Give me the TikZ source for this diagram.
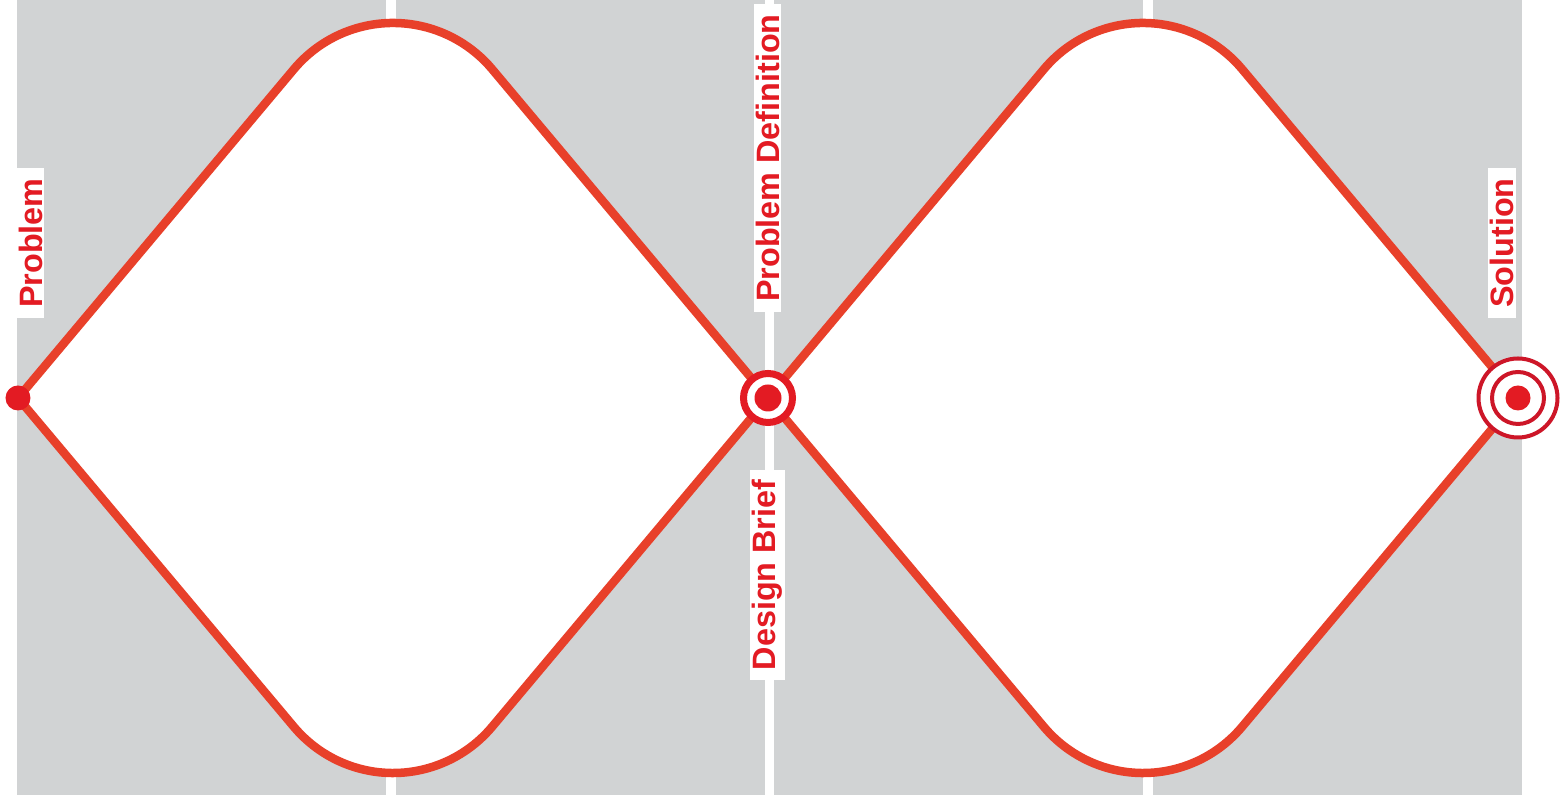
\documentclass[tikz,border=0pt]{standalone}
\usepackage{fontspec}
\setmainfont{Liberation Sans}
\usetikzlibrary{positioning}
\definecolor{panelgrey}{RGB}{209,211,212}
\definecolor{pathred}{RGB}{232,64,42}
\definecolor{dotred}{RGB}{227,27,35}
\definecolor{ringred}{RGB}{205,22,40}
\tikzset{
  panel/.style={fill=panelgrey, draw=none},
  stagelabel/.style={fill=white, text=dotred, rotate=90, inner xsep=0.1cm, inner ysep=0.02cm,
    font=\bfseries\fontsize{9.2}{10}\selectfont},
  diamondpath/.style={draw=pathred, line width=0.085cm, fill=white, line join=miter},
  reddot/.style={circle, fill=dotred, inner sep=0pt, minimum size=0.25cm},
  ring/.style={circle, fill=white, inner sep=0pt},
}
\begin{document}
\begin{tikzpicture}
    \useasboundingbox[fill=white] (0,0) rectangle (15.67,8);
    % grey columns
    \foreach \x in {0.17,3.96,7.74,11.53}
        \fill[panel] (\x,0.05) rectangle ++(3.69,7.95);

    \coordinate (start) at (0.18,4.02);
    \coordinate (mid) at (7.68,4.02);
    \coordinate (goal) at (15.18,4.02);

    % the two diamonds
    \draw[diamondpath] (start) -- ++(2.759,3.288) arc[start angle=140, end angle=40, radius=1.294]
        -- (mid) -- ++(-2.759,-3.288) arc[start angle=-40, end angle=-140, radius=1.294] -- cycle;
    \draw[diamondpath] (mid) -- ++(2.759,3.288) arc[start angle=140, end angle=40, radius=1.294]
        -- (goal) -- ++(-2.759,-3.288) arc[start angle=-40, end angle=-140, radius=1.294] -- cycle;

    % labels
    \node[stagelabel] (problem) at (0.305,5.57) {Problem};
    \node[stagelabel] (definition) at (7.675,6.42) {Problem Definition};
    \node[stagelabel] (brief) at (7.675,2.25) {Design Brief};
    \node[stagelabel] (solution) at (15.02,5.57) {Solution};

    % markers
    \node[reddot] (startdot) at (start) {};
    \node[ring, draw=dotred, line width=0.07cm, minimum size=0.49cm] (midring) at (mid) {};
    \node[reddot, minimum size=0.27cm] (middot) at (mid) {};
    \node[ring, draw=ringred, line width=0.04cm, minimum size=0.79cm] (goalouter) at (goal) {};
    \node[ring, draw=ringred, line width=0.04cm, minimum size=0.52cm] (goalinner) at (goal) {};
    \node[reddot] (goaldot) at (goal) {};
\end{tikzpicture}
\end{document}
